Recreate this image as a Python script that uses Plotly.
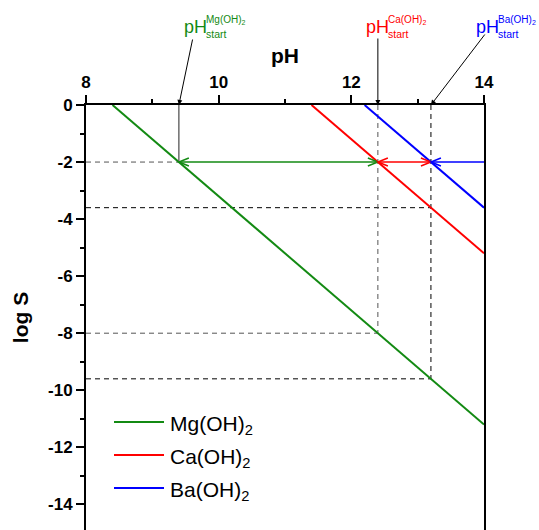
import plotly.graph_objects as go

# ---- data ----
names = ["Mg(OH)<sub>2</sub>", "Ca(OH)<sub>2</sub>", "Ba(OH)<sub>2</sub>"]
colors = ["#138a13", "#ff0000", "#0000ff"]
mg_ph = [8.4, 14.0]
mg_logS = [0.0, -11.2]
ca_ph = [11.4, 14.0]
ca_logS = [0.0, -5.2]
ba_ph = [12.2, 14.0]
ba_logS = [0.0, -3.6]
ph_start = [9.4, 12.4, 13.2]          # pH_start of Mg, Ca, Ba
target_logS = -2.0
mg_at_ca_start = -8.0                 # Mg(OH)2 log S at pH 12.4
mg_at_ba_start = -9.6                 # Mg(OH)2 log S at pH 13.2
ca_at_ba_start = -3.6                 # Ca(OH)2 log S at pH 13.2
x_ticks = [8, 10, 12, 14]
x_tick_labels = ["8", "10", "12", "14"]
y_ticks = [0, -2, -4, -6, -8, -10, -12, -14]
y_tick_labels = ["0", "-2", "-4", "-6", "-8", "-10", "-12", "-14"]

W, H = 539, 530
ML, MR, MT, MB = 86, 55, 105, 0
PW, PH_ = W - ML - MR, H - MT - MB

def px(xp):
    return (xp - ML) / PW

def py(yp):
    return (H - MB - yp) / PH_

fig = go.Figure()
series = [(mg_ph, mg_logS), (ca_ph, ca_logS), (ba_ph, ba_logS)]
for (xs, ys), n, c in zip(series, names, colors):
    fig.add_trace(go.Scatter(x=xs, y=ys, mode="lines", name=n, showlegend=False,
                             line=dict(color=c, width=2)))

shapes = []
def dline(x0, y0, x1, y1, color="black"):
    shapes.append(dict(type="line", xref="x", yref="y", x0=x0, y0=y0, x1=x1, y1=y1,
                       line=dict(color=color, width=1, dash="5px,4px"), layer="below"))

# dashed guide lines
dline(8, target_logS, ph_start[0], target_logS, "#555555")
dline(8, ca_at_ba_start, ph_start[2], ca_at_ba_start)
dline(8, mg_at_ca_start, ph_start[1], mg_at_ca_start, "#555555")
dline(8, mg_at_ba_start, ph_start[2], mg_at_ba_start)
dline(ph_start[1], 0, ph_start[1], mg_at_ca_start, "#555555")
dline(ph_start[2], 0, ph_start[2], mg_at_ba_start)
# solid drop at Mg pH_start
shapes.append(dict(type="line", xref="x", yref="y", x0=ph_start[0], y0=0, x1=ph_start[0],
                   y1=target_logS, line=dict(color="#555555", width=1.3)))

def shaft(x0, x1, color):
    shapes.append(dict(type="line", xref="x", yref="y", x0=x0, y0=target_logS, x1=x1,
                       y1=target_logS, line=dict(color=color, width=1.5)))

def chevron(x, d, color):
    # d = +1 points right, -1 points left
    a = -10 * d
    shapes.append(dict(type="path", xref="x", yref="y", xsizemode="pixel", ysizemode="pixel",
                       xanchor=x, yanchor=target_logS,
                       path=f"M{a},4 L0,0 L{a},-4",
                       line=dict(color=color, width=1.5)))

shaft(ph_start[0], ph_start[1], colors[0])
chevron(ph_start[0], -1, colors[0])
chevron(ph_start[1], 1, colors[0])
shaft(ph_start[1], ph_start[2], colors[1])
chevron(ph_start[1], -1, colors[1])
chevron(ph_start[2], 1, colors[1])
shaft(ph_start[2], 14, colors[2])
chevron(ph_start[2], -1, colors[2])

anns = []
# arrows from labels to top axis
arrow_offsets = [(14, -67), (0, -68), (55, -72)]
for xs, (ax, ay) in zip(ph_start, arrow_offsets):
    anns.append(dict(x=xs, y=0, xref="x", yref="y", text="", showarrow=True,
                     ax=ax, ay=ay, arrowhead=2, arrowsize=1, arrowwidth=1,
                     arrowcolor="black", standoff=0, startstandoff=0))

label_left = [182, 364, 474]
for lx, lab, c in zip(label_left, names, colors):
    anns.append(dict(x=px(lx), y=py(27), xref="paper", yref="paper", text="pH",
                     showarrow=False, xanchor="left", yanchor="middle",
                     font=dict(family="Liberation Sans", size=18, color=c)))
    anns.append(dict(x=px(lx + 22), y=py(20), xref="paper", yref="paper", text=lab,
                     showarrow=False, xanchor="left", yanchor="middle",
                     font=dict(family="Liberation Sans", size=10, color=c)))
    anns.append(dict(x=px(lx + 22), y=py(34), xref="paper", yref="paper", text="start",
                     showarrow=False, xanchor="left", yanchor="middle",
                     font=dict(family="Liberation Sans", size=10.5, color=c)))

# legend (drawn by hand to match the long sample lines)
legend_rows = [422, 455, 488]
for ry, n, c in zip(legend_rows, names, colors):
    shapes.append(dict(type="line", xref="paper", yref="paper", x0=px(114), x1=px(164),
                       y0=py(ry), y1=py(ry), line=dict(color=c, width=2)))
    anns.append(dict(x=px(168), y=py(ry + 3), xref="paper", yref="paper", text=n,
                     showarrow=False, xanchor="left", yanchor="middle",
                     font=dict(family="Liberation Sans", size=21, color="black")))

tickfont = dict(family="Liberation Sans", size=17, color="black", weight="bold")
titlefont = dict(family="Liberation Sans", size=21, color="black", weight="bold")
fig.update_layout(
    width=W, height=H, margin=dict(l=ML, r=MR, t=MT, b=MB),
    paper_bgcolor="white", plot_bgcolor="white",
    shapes=shapes, annotations=anns,
    showlegend=False,
    xaxis=dict(side="top", range=[8, 14], tickvals=x_ticks, ticktext=x_tick_labels,
               ticks="outside", ticklen=8,
               tickwidth=2, tickcolor="black", showline=True, linewidth=2, linecolor="black",
               showgrid=False, zeroline=False, tickfont=tickfont,
               minor=dict(dtick=1, ticks="outside", ticklen=4, tickwidth=1.5, tickcolor="black", showgrid=False),
               title=dict(text="pH", standoff=4, font=titlefont)),
    yaxis=dict(range=[-14.9, 0], tickvals=y_ticks, ticktext=y_tick_labels,
               ticks="outside", ticklen=8, tickwidth=2,
               tickcolor="black", showline=True, linewidth=2, linecolor="black", mirror=True,
               showgrid=False, zeroline=False, tickfont=tickfont,
               minor=dict(dtick=1, ticks="outside", ticklen=4, tickwidth=1.5, tickcolor="black", showgrid=False),
               title=dict(text="log S", standoff=14, font=titlefont)),
    yaxis2=dict(overlaying="y", side="right", range=[-14.9, 0], dtick=1, ticks="inside",
                ticklen=3, tickwidth=1, tickcolor="black", showticklabels=False,
                showgrid=False, zeroline=False, showline=False),
)
fig.write_html("out.html")
